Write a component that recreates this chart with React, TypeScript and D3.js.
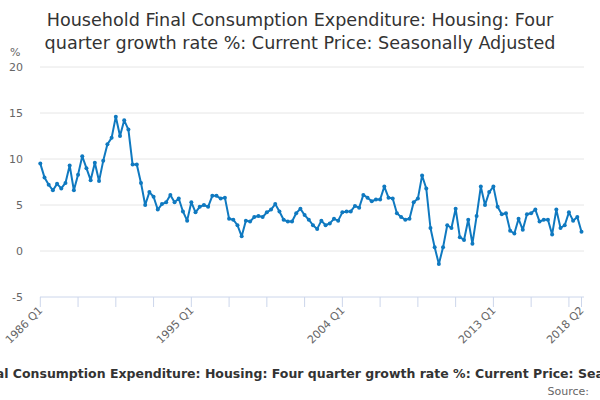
import * as d3 from "d3"

// Four quarter growth rate %, 1986 Q1 .. 2018 Q2
const growth = [
  9.5, 8.0, 7.2, 6.6, 7.3, 6.8, 7.4, 9.3, 6.6, 8.3,
  10.3, 9.0, 7.7, 9.6, 7.6, 9.8, 11.6, 12.3, 14.6, 12.5,
  14.2, 13.2, 9.4, 9.4, 7.4, 5.0, 6.4, 5.9, 4.5, 5.1,
  5.3, 6.1, 5.3, 5.7, 4.3, 3.3, 5.3, 4.2, 4.8, 5.0,
  4.8, 6.0, 6.0, 5.7, 5.8, 3.5, 3.4, 2.8, 1.6, 3.3,
  3.2, 3.7, 3.8, 3.7, 4.2, 4.5, 5.1, 4.3, 3.4, 3.2,
  3.2, 4.1, 4.6, 3.9, 3.4, 2.8, 2.4, 3.3, 2.8, 3.0,
  3.5, 3.3, 4.2, 4.3, 4.3, 4.9, 4.7, 6.1, 5.8, 5.4,
  5.6, 5.6, 7.0, 5.8, 5.7, 4.1, 3.7, 3.4, 3.5, 5.3,
  5.7, 8.2, 6.8, 2.5, 0.4, -1.4, 0.4, 2.8, 2.5, 4.6,
  1.5, 1.2, 3.4, 0.8, 3.8, 7.0, 5.0, 6.4, 7.0, 4.8,
  4.0, 4.1, 2.2, 1.9, 3.5, 2.3, 4.0, 4.1, 4.5, 3.2,
  3.4, 3.4, 1.8, 4.5, 2.5, 2.8, 4.2, 3.3, 3.7, 2.1,
]

const startYear = 1986
const quarters = growth.map((_, i) => `${startYear + Math.floor(i / 4)} Q${(i % 4) + 1}`)
const yTicks = [-5, 0, 5, 10, 15, 20]
const labelledQuarters = ["1986 Q1", "1995 Q1", "2004 Q1", "2013 Q1", "2018 Q2"]

const titleLines = [
  "Household Final Consumption Expenditure: Housing: Four",
  "quarter growth rate %: Current Price: Seasonally Adjusted",
]
const seriesName =
  "Household Final Consumption Expenditure: Housing: Four quarter growth rate %: Current Price: Seasonally Adjusted"

export default function App() {
  const width = 600
  const height = 400
  const font = "'DejaVu Sans', Verdana, sans-serif"

  const x = d3.scaleLinear().domain([0, growth.length - 1]).range([40.3, 581.5])
  const y = d3.scaleLinear().domain([-5, 20]).range([297, 67])

  const line = d3
    .line<number>()
    .x((_, i) => x(i))
    .y((d) => y(d))

  // ticks every 9 quarters, plus the last one
  const tickIdx = d3.range(0, growth.length, 9)
  if (tickIdx[tickIdx.length - 1] !== growth.length - 1) tickIdx.push(growth.length - 1)

  const blue = "#0f79c0"

  return (
    <svg
      width={width}
      height={height}
      style={{ position: "absolute", left: 0, top: 0, fontFamily: font }}
    >
      <rect width={width} height={height} fill="#ffffff" />

      {titleLines.map((t, i) => (
        <text key={t} x={300} y={26 + i * 23} textAnchor="middle" fontSize={17.6} fill="#333333">
          {t}
        </text>
      ))}

      <text x={10} y={56} fontSize={11} fill="#666666">
        %
      </text>

      {yTicks.map((t) => (
        <g key={t}>
          {t !== -5 && (
            <line x1={40} x2={584} y1={y(t)} y2={y(t)} stroke="#e6e6e6" strokeWidth={1} />
          )}
          <text x={23} y={y(t) + 4} textAnchor="end" fontSize={11} fill="#666666">
            {t}
          </text>
        </g>
      ))}

      <line x1={40} x2={584} y1={297} y2={297} stroke="#ccd6eb" strokeWidth={1} />
      {tickIdx.map((i) => (
        <line key={i} x1={x(i)} x2={x(i)} y1={297} y2={307} stroke="#ccd6eb" strokeWidth={1} />
      ))}
      {quarters.map((q, i) =>
        labelledQuarters.includes(q) ? (
          <text
            key={q}
            transform={`translate(${x(i) + 3},${311}) rotate(-45)`}
            textAnchor="end"
            fontSize={11}
            fill="#666666"
          >
            {q}
          </text>
        ) : null
      )}

      <path d={line(growth) ?? ""} fill="none" stroke={blue} strokeWidth={2} strokeLinejoin="round" />
      {growth.map((v, i) => (
        <circle key={i} cx={x(i)} cy={y(v)} r={2} fill={blue} />
      ))}

      <text x={308} y={378} textAnchor="middle" fontSize={12.5} fontWeight="bold" fill="#333333">
        {seriesName}
      </text>
      <text x={589} y={395} textAnchor="end" fontSize={11} fill="#666666">
        Source:
      </text>
    </svg>
  )
}
